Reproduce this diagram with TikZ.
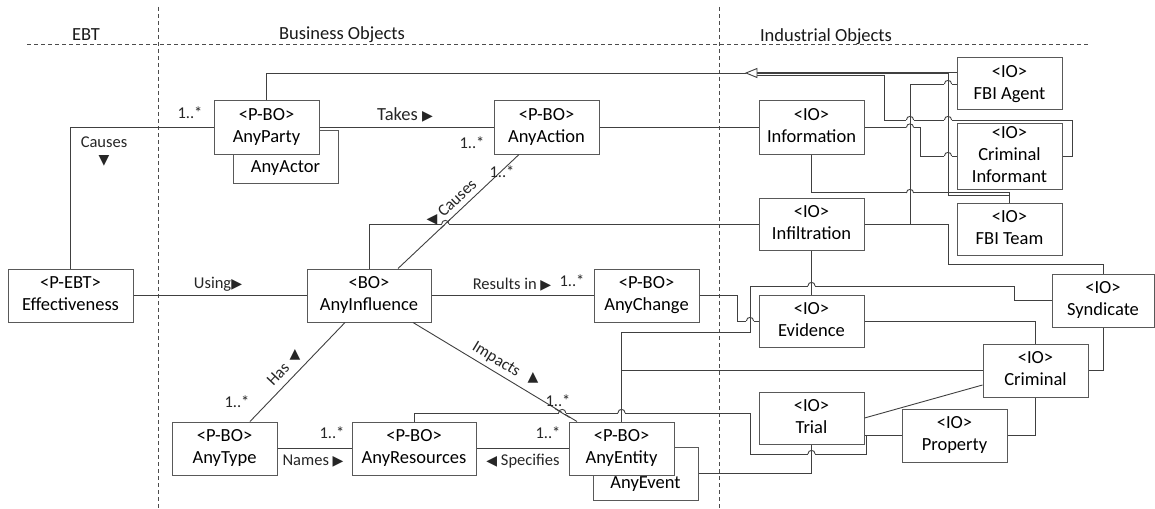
\documentclass[tikz,border=0pt]{standalone}
\usepackage{fontspec}
\setmainfont{Carlito}
\newfontfamily\symf{DejaVu Sans}
\newcommand{\trig}[1]{{\symf\fontsize{14}{14}\selectfont #1}}
\newcommand{\hop}[3]{%
  \fill[white] ({#1-3.6},{#2-1.1}) rectangle ({#1+3.6},{#2+1.1});
  \draw[ln] ({#1-(#3)},{#2-4.5}) -- ({#1+(#3)},{#2+4.5});
  \draw[ln] ({#1-3.6},#2) .. controls ({#1-3.6},{#2-4.8}) and ({#1+3.6},{#2-4.8}) .. ({#1+3.6},#2);
}
\begin{document}
\begin{tikzpicture}[x=1pt,y=-1pt,
  ln/.style={draw=black!75, line width=0.9pt},
  bx/.style={draw=black!65, line width=1pt, fill=white, minimum width=105pt, minimum height=53pt,
    inner sep=0pt, align=center, font=\fontsize{18.5}{22}\selectfont},
  lbl/.style={font=\fontsize{16.5}{18}\selectfont, inner sep=0pt, text=black!85},
  hdr/.style={font=\fontsize{18.5}{22}\selectfont, inner sep=0pt, text=black!90},
  sep/.style={draw=black!70, line width=0.8pt, dash pattern=on 4pt off 3pt},
]
\useasboundingbox (0,0) rectangle (1155,508);
\fill[white] (0,0) rectangle (1155,508);

% separators and headers
\draw[sep] (158,7) -- (158,508);
\draw[sep] (719,7) -- (719,508);
\draw[sep] (27,44) -- (1090,44);
\node[hdr] (hEBT) at (86,35) {EBT};
\node[hdr] (hBO) at (342,35) {Business Objects};
\node[hdr] (hIO) at (826,37) {Industrial Objects};

% boxes behind
\node[bx] (actor) at (285.5,157) {\strut\\AnyActor\strut};
\node[bx] (event) at (645.5,473.5) {\strut\\AnyEvent\strut};

% boxes
\node[bx] (party) at (266.5,127.5) {\strut<P-BO>\\AnyParty\strut};
\node[bx] (action) at (546.5,127.5) {\strut<P-BO>\\AnyAction\strut};
\node[bx] (info) at (811.5,127.5) {\strut<IO>\\Information\strut};
\node[bx, minimum height=52pt] (fbiagent) at (1009.5,84) {\strut<IO>\\FBI Agent\strut};
\node[bx, minimum height=64pt] (ci) at (1009.5,156) {\strut<IO>\\Criminal\\Informant\strut};
\node[bx, minimum height=52pt] (fbiteam) at (1009.5,229) {\strut<IO>\\FBI Team\strut};
\node[bx, minimum height=52pt] (infil) at (811.5,224) {\strut<IO>\\Infiltration\strut};
\node[bx, minimum width=125pt] (effect) at (70.5,295.5) {\strut<P-EBT>\\Effectiveness\strut};
\node[bx, minimum width=124pt] (influence) at (369,295.5) {\strut<BO>\\AnyInfluence\strut};
\node[bx] (change) at (646.5,295.5) {\strut<P-BO>\\AnyChange\strut};
\node[bx, minimum height=52pt] (evidence) at (811.5,321) {\strut<IO>\\Evidence\strut};
\node[bx, minimum width=102pt] (syndicate) at (1103,300.5) {\strut<IO>\\Syndicate\strut};
\node[bx] (criminal) at (1035.5,370.5) {\strut<IO>\\Criminal\strut};
\node[bx, minimum height=52pt] (trial) at (811.5,418) {\strut<IO>\\Trial\strut};
\node[bx] (property) at (954.5,435.5) {\strut<IO>\\Property\strut};
\node[bx] (anytype) at (224.5,448.5) {\strut<P-BO>\\AnyType\strut};
\node[bx, minimum width=124pt] (resources) at (414,448.5) {\strut<P-BO>\\AnyResources\strut};
\node[bx] (entity) at (621.5,448.5) {\strut<P-BO>\\AnyEntity\strut};

% generalization
\coordinate (gtip) at (746,73);
\coordinate (gbase) at (757,73);
\draw[ln] (party.north) |- (gtip);
\draw[ln] ([yshift=12pt]fbiagent.west) -- ([yshift=1pt]gbase);
\draw[ln] (fbiteam.north) |- (948,195) |- ([yshift=-0.5pt]gbase);
\draw[ln] (ci.east) -- ++(10,0) |- (884,120) |- ([yshift=-2pt]gbase);
\draw[ln, fill=white] (gtip) -- ++(11,-4.5) -- ++(0,9) -- cycle;

% associations (business side)
\draw[ln] (effect.north) |- (party.west);
\draw[ln] (party.east) -- (action.west);
\draw[ln] (action.east) -- (info.west);
\draw[ln] (influence.north) |- (infil.west);
\draw[ln] ([xshift=29pt]influence.north) -- ([xshift=-27.5pt]action.south);
\draw[ln] (effect.east) -- (influence.west);
\draw[ln] (influence.east) -- (change.west);
\draw[ln] ([xshift=-24pt]influence.south) -- ([xshift=25.5pt]anytype.north);
\draw[ln] ([xshift=44pt]influence.south) -- ([xshift=-44.5pt]entity.north);
\draw[ln] (anytype.east) -- (resources.west);
\draw[ln] (entity.west) -- (resources.east);

% industrial side
\draw[ln] (infil.east) -| (910,84) -- (fbiagent.west);
\draw[ln] (info.east) -| (920,156) -- (ci.west);
\draw[ln] (info.south) |- ([yshift=10pt]fbiteam.north) -- (fbiteam.north);
\draw[ln] (resources.north) |- (750,413) |- (866,454) |- (property.west);
\draw[ln] (trial.east |- property.west) -- (property.west);
\draw[ln] (entity.north) |- (criminal.west);
\draw[ln] (entity.north) |- (750,332) |- (1014,286) |- (syndicate.west);
\draw[ln] (change.east) -| (737,321) -- (evidence.west);
\draw[ln] (infil.south) -- (evidence.north);
\draw[ln] (infil.east) -| (948,264) -| (syndicate.north);
\draw[ln] (evidence.east) -| (criminal.north);
\draw[ln] (syndicate.south) |- (criminal.east);
\draw[ln] (criminal.south) |- (property.east);
\draw[ln] (trial.east) -- ([yshift=-14.5pt]criminal.west);
\draw[ln] (event.east) -| (trial.south);

% line hops
\hop{910}{127.5}{0}
\hop{910}{120}{0}
\hop{948}{120}{0}
\hop{948}{84}{0}
\hop{948}{156}{0}
\hop{910}{193}{0}
\hop{445.3}{224}{-4.7}
\hop{811.5}{286}{0}
\hop{750}{321}{0}
\hop{562.2}{413}{7.4}
\hop{621.5}{413}{0}
\hop{811.5}{454}{0}

% labels
\node[lbl] (lcauses) at (104,142) {Causes};
\node[lbl] (lcausestri) at (104,161) {\trig{▼}};
\node[lbl] (m1) at (190,113) {1..*};
\node[lbl, font=\fontsize{18.5}{20}\selectfont] (ltakes) at (405,115) {Takes \trig{▶}};
\node[lbl] (m2) at (472,143) {1..*};
\node[lbl] (m3) at (502,172) {1..*};
\node[lbl, rotate=43.5] (lcauses2) at (457,198) {Causes};
\node[lbl] (lcauses2tri) at (432,220) {\trig{◀}};
\node[lbl] (lusing) at (218,284) {Using\trig{▶}};
\node[lbl] (lresults) at (512,285) {Results in \trig{▶}};
\node[lbl] (m4) at (572,281) {1..*};
\node[lbl, rotate=46.5] (lhas) at (278,374) {Has};
\node[lbl] (lhastri) at (295,355) {\trig{▲}};
\node[lbl, rotate=-31.4] (limpacts) at (496,360) {Impacts};
\node[lbl] (limpactstri) at (533,378) {\trig{▲}};
\node[lbl] (m5) at (237,402) {1..*};
\node[lbl] (m6) at (558,401) {1..*};
\node[lbl] (m7) at (332,433) {1..*};
\node[lbl] (lnames) at (313,461) {Names \trig{▶}};
\node[lbl] (m8) at (548,433) {1..*};
\node[lbl] (lspec) at (523,461) {\trig{◀} Specifies};
\end{tikzpicture}
\end{document}
